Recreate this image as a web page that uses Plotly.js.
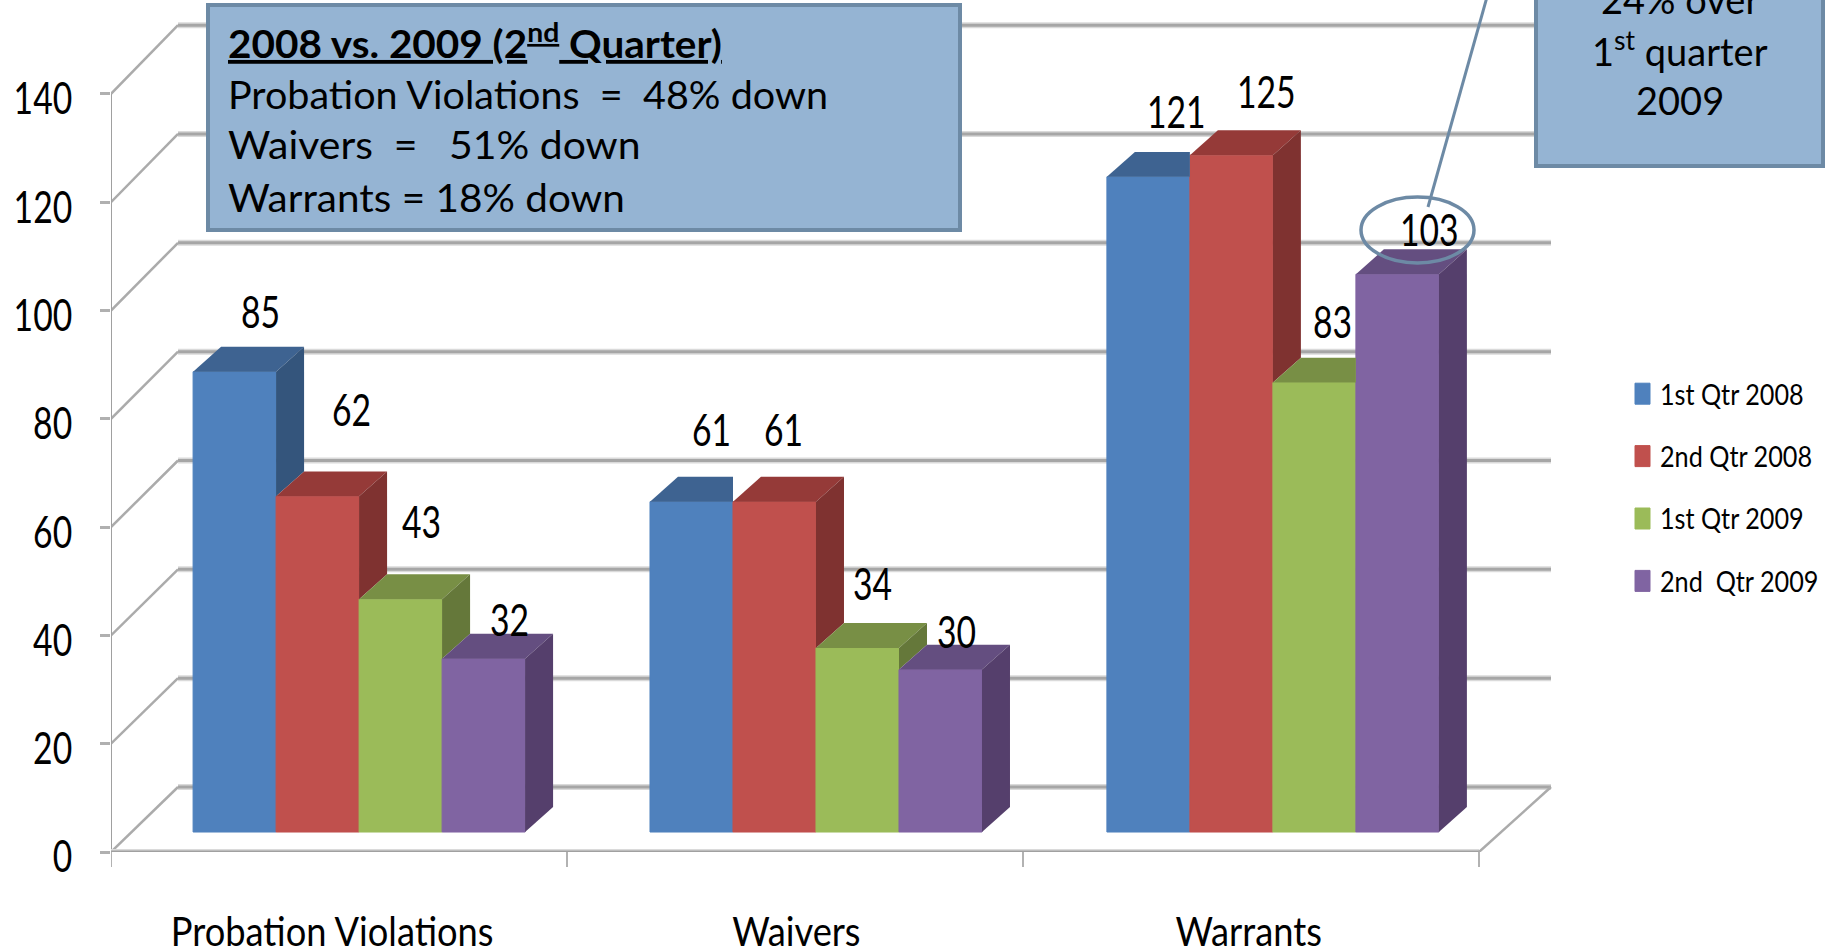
<!DOCTYPE html>
<html><head><meta charset="utf-8">
<script src="https://cdn.plot.ly/plotly-3.0.1.min.js"></script>
<style>html,body{margin:0;padding:0;background:#fff;overflow:hidden}#chart{width:1831px;height:950px}</style>
</head><body><div id="chart"></div>
<script>
// ---- data ----
const categories = ["Probation Violations", "Waivers", "Warrants"];
const qtr1_2008 = [85, 61, 121];
const qtr2_2008 = [62, 61, 125];
const qtr1_2009 = [43, 34, 83];
const qtr2_2009 = [32, 30, 103];
const seriesNames = ["1st Qtr 2008", "2nd Qtr 2008", "1st Qtr 2009", "2nd\u00a0 Qtr 2009"];
const yTicks = [0, 20, 40, 60, 80, 100, 120, 140];

// ---- style / layout constants ----
const seriesValues = [qtr1_2008, qtr2_2008, qtr1_2009, qtr2_2009];
const frontColors = ["#4F81BD", "#C0504D", "#9BBB59", "#8064A2"];
const topColors   = ["#3E6391", "#953A38", "#788F45", "#644E80"];
const sideColors  = ["#34557C", "#7F3230", "#65783A", "#553F6C"];
const FONT = 'Lato,"Open Sans",sans-serif';
const BOX_FONT = 'Lato,"Open Sans",sans-serif';
const L = 111, R = 1556, H = 852, BW = 456, PXY = 5.415;
const barStart = 0.18, barW = 83 / BW, dx = 28 / BW, dy = 4.6, floorBase = 3.69, groupPitch = 1.002;
const wallDx = 0.147, wallEnd = (1551 - L) / BW, nCat = categories.length;
const wallY = v => v * 1.005 + 12;
const px = x => (x - L) / (R - L), py = y => 1 - y / H;
const left = (c, s) => c * groupPitch + barStart + s * barW;

// ---- traces ----
const traces = [];
seriesValues.forEach((vals, s) => {
  traces.push({
    type: "bar", name: seriesNames[s], legendgroup: "g" + s,
    x: vals.map((_, c) => left(c, s) + barW / 2), y: vals,
    base: vals.map(() => floorBase), width: barW,
    marker: {color: frontColors[s], line: {color: frontColors[s], width: 1}},
    hoverinfo: "y+name"
  });
});
seriesValues.forEach((vals, s) => {
  vals.forEach((v, c) => {
    const l = left(c, s), r = l + barW, t = floorBase + v;
    const nextV = s < seriesValues.length - 1 ? seriesValues[s + 1][c] : 0;
    const hiddenByNext = nextV >= v;
    // top face, cut where the next, taller bar stands in front of it
    const topX = hiddenByNext ? [l, r, r, l + dx, l] : [l, r, r + dx, l + dx, l];
    const topY = [t, t, t + dy, t + dy, t];
    traces.push({type: "scatter", mode: "lines", x: topX, y: topY, fill: "toself", fillcolor: topColors[s],
      line: {width: 0}, showlegend: false, hoverinfo: "skip"});
    if (!hiddenByNext) {
      const b = floorBase + nextV;
      traces.push({type: "scatter", mode: "lines", x: [r, r + dx, r + dx, r, r], y: [t, t + dy, b + dy, b, t],
        fill: "toself", fillcolor: sideColors[s], line: {width: 0}, showlegend: false, hoverinfo: "skip"});
    }
  });
});

// ---- back wall, floor and side-wall lines ----
const lineShape = (x0, y0, x1, y1, color, width) => ({type: "line", layer: "below", xref: "x", yref: "y",
  x0, y0, x1, y1, line: {color, width}});
const shapes = [];
yTicks.forEach(v => {
  shapes.push(lineShape(wallDx, wallY(v), wallEnd, wallY(v), "#DADADA", 6));
  shapes.push(lineShape(wallDx, wallY(v), wallEnd, wallY(v), "#A6A6A6", 3));
  shapes.push(lineShape(0, v, wallDx, wallY(v), "#ABABAB", 2.5));
});
shapes.push(lineShape(0, 0, 0, yTicks[yTicks.length - 1], "#A0A0A0", 2));
shapes.push(lineShape(0, 0, nCat, 0, "#DADADA", 6));
shapes.push(lineShape(0, 0, nCat, 0, "#A0A0A0", 3));
shapes.push(lineShape(nCat, 0, wallEnd, wallY(0), "#ABABAB", 2.5));
for (let i = 0; i <= nCat; i++) {
  shapes.push({type: "line", layer: "below", xref: "x", yref: "paper", x0: i, x1: i, y0: 0, y1: -15 / H,
    line: {color: "#999999", width: 1.5}});
}

// ---- call-outs ----
const BOX_FILL = "#95B4D3", BOX_LINE = "#6D8AA5";
const box = (x0, y0, x1, y1) => ({type: "rect", layer: "above", xref: "paper", yref: "paper",
  x0: px(x0), x1: px(x1), y0: py(y1), y1: py(y0), fillcolor: BOX_FILL, line: {color: BOX_LINE, width: 4}});
shapes.push({type: "line", layer: "above", xref: "paper", yref: "paper",
  x0: px(1428), y0: py(207), x1: px(1487), y1: py(-3), line: {color: BOX_LINE, width: 3}});
shapes.push(box(208, 5, 960, 230));
shapes.push(box(1536, -20, 1823, 166));
shapes.push({type: "circle", layer: "above", xref: "paper", yref: "paper",
  x0: px(1361), x1: px(1474), y0: py(263), y1: py(197), line: {color: BOX_LINE, width: 3.5}});

const note = (text, x, y, anchor, extra) => ({text, xref: "paper", yref: "paper", x: px(x), y: py(y),
  xanchor: anchor, yanchor: "middle", showarrow: false, align: anchor,
  font: Object.assign({family: BOX_FONT, size: 38, color: "#000"}, extra || {})});
const annotations = [
  note("<b>2008 vs. 2009 (2<sup>nd</sup> Quarter)</b>", 226, 41, "left", {lineposition: "under"}),
  note("Probation Violations\u00a0 =\u00a0 48% down", 226, 94, "left"),
  note("Waivers\u00a0 =\u00a0\u00a0 51% down", 226, 144, "left"),
  note("Warrants = 18% down", 226, 197, "left"),
  note("24% over", 1680, -1, "center"),
  note("1<sup>st</sup> quarter", 1680, 49, "center"),
  note("2009", 1680, 100, "center")
];
const boxNotes = annotations.length;
const boxSqueeze = [1.065, 1.04, 1.077, 1.065, 1, 1, 1];

// ---- data labels, nudged to where the reference puts them ----
const labelNudge = [
  [[26, 61], [20, 73], [28, 66]],
  [[34, 87], [9, 73], [35, 64]],
  [[21, 78], [15, 65], [18, 62]],
  [[26, 40], [16, 39], [32, 45]]
];
seriesValues.forEach((vals, s) => vals.forEach((v, c) => {
  annotations.push({text: String(v), x: left(c, s) + barW / 2, y: floorBase + v, xref: "x", yref: "y",
    xshift: labelNudge[s][c][0], yshift: labelNudge[s][c][1], showarrow: false,
    xanchor: "center", yanchor: "middle", font: {family: FONT, size: 44, color: "#000"}});
}));

const layout = {
  width: 1831, height: 950, autosize: false, paper_bgcolor: "#fff", plot_bgcolor: "rgba(0,0,0,0)",
  margin: {l: L, r: 1831 - R, t: 0, b: 950 - H, pad: 0, autoexpand: false},
  barmode: "overlay", showlegend: true, hovermode: "closest",
  font: {family: FONT, color: "#000"},
  xaxis: {
    range: [0, (R - L) / BW], tickmode: "array",
    tickvals: [0.485, 1.503, 2.495], ticktext: categories,
    ticks: "", showgrid: false, zeroline: false, showline: false,
    tickfont: {family: FONT, size: 41, color: "#000"}, ticklabelstandoff: 52, automargin: false
  },
  yaxis: {
    range: [0, H / PXY], tickmode: "array", tickvals: yTicks, ticktext: yTicks.map(String),
    ticks: "outside", ticklen: 10, tickwidth: 2.5, tickcolor: "#B0B0B0",
    showgrid: false, zeroline: false, showline: false,
    tickfont: {family: FONT, size: 44, color: "#000"}, ticklabelstandoff: 19, ticklabelshift: 5, automargin: false
  },
  legend: {x: px(1620), y: py(369), xanchor: "left", yanchor: "top", traceorder: "grouped", tracegroupgap: 23,
    font: {family: FONT, size: 28, color: "#000"}, bgcolor: "rgba(0,0,0,0)", borderwidth: 0, itemclick: false, itemdoubleclick: false},
  shapes, annotations
};

// The reference text is a horizontally squeezed face: narrow each real text element to its width.
function fit(el, k) {
  const n = el.getComputedTextLength();
  if (n > 0) { el.setAttribute("textLength", (n * k).toFixed(1)); el.setAttribute("lengthAdjust", "spacingAndGlyphs"); }
}
Plotly.newPlot("chart", traces, layout, {displayModeBar: false, responsive: false}).then(gd => {
  gd.querySelectorAll(".ytick text").forEach(t => fit(t, 0.765));
  gd.querySelectorAll(".xtick text").forEach(t => fit(t, 0.885));
  gd.querySelectorAll(".legendtext").forEach(t => fit(t, 0.9));
  gd.querySelectorAll(".annotation").forEach(a => {
    const i = +a.getAttribute("data-index"), t = a.querySelector(".annotation-text");
    if (t) fit(t, i >= boxNotes ? 0.765 : boxSqueeze[i]);
  });
  gd.querySelectorAll(".legendpoints path").forEach(p => p.setAttribute("d", "M10,10.5H-5V-10.5H10Z"));
});
</script></body></html>
